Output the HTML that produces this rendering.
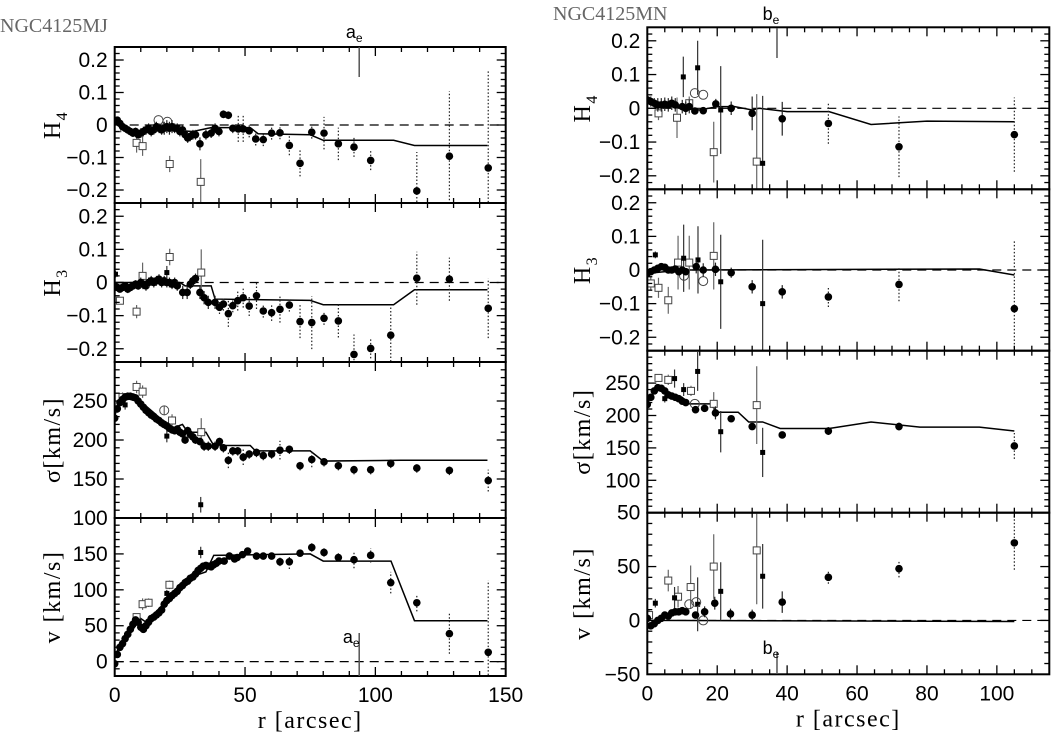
<!DOCTYPE html>
<html><head><meta charset="utf-8"><style>
html,body{margin:0;padding:0;background:#fff}
svg{display:block}
text{font-family:"Liberation Sans",sans-serif}
.serif{font-family:"Liberation Serif",serif}
</style></head><body>
<svg id="fig" width="1051" height="735" viewBox="0 0 1051 735" xmlns="http://www.w3.org/2000/svg">
<text class="serif" x="0" y="32" font-size="20" fill="#666">NGC4125MJ</text>
<text class="serif" x="553" y="20" font-size="20" fill="#666">NGC4125MN</text>
</svg>
<script>
// ===== LEFT (MJ) data: [r, value, error] =====
const L_H4_circ=[[0,0.01,0.01],[1,0.015,0.01],[2,0.005,0.01],[3,-0.005,0.01],[4,-0.01,0.01],[5,-0.015,0.01],[6,-0.02,0.012],[7,-0.025,0.012],[8,-0.02,0.012],[9,-0.03,0.012],[10,-0.025,0.015],[11,-0.02,0.015],[12,-0.015,0.015],[13,-0.01,0.015],[14,-0.02,0.015],[15,-0.015,0.015],[16,-0.005,0.015],[17,-0.01,0.015],[18,-0.015,0.015],[19,-0.01,0.02],[20,-0.005,0.02],[21,-0.01,0.02],[22,-0.005,0.02],[23,-0.01,0.015],[24,-0.01,0.015],[25,-0.02,0.015],[26,-0.015,0.015],[27,-0.03,0.015],[28,-0.04,0.015],[29,-0.035,0.015],[30,-0.03,0.015],[31,-0.03,0.015],[32.7,-0.058,0.02],[35,-0.03,0.015],[37,-0.025,0.015],[38.5,-0.01,0.015],[40,-0.02,0.015],[41.7,0.033,0.012],[43.6,0.03,0.012],[45.3,-0.01,0.015],[47.4,-0.012,0.04],[49.3,-0.012,0.04],[51.6,-0.018,0.02],[54.1,-0.043,0.02],[57,-0.045,0.02],[60.2,-0.025,0.02],[63.4,-0.024,0.02],[67,-0.063,0.03],[71.1,-0.118,0.04],[75.6,-0.022,0.02],[80.3,-0.025,0.05],[85.8,-0.058,0.05],[91.8,-0.068,0.03],[98.2,-0.109,0.03],[115.9,-0.203,0.12],[128.4,-0.096,0.2],[143.3,-0.132,0.3]];
const L_H4_sq=[[1,-0.01,0.01],[8.4,-0.055,0.03],[10.7,-0.065,0.03],[21.1,-0.12,0.025],[33,-0.175,0.07]];
const L_H4_osq=[[16.8,0.015],[20.2,0.01]];
const L_H4_model=[[0,0.01],[3,-0.01],[10,-0.02],[20,-0.015],[30,-0.02],[37,-0.008],[52,-0.008],[55,-0.027],[75,-0.03],[80,-0.047],[107,-0.047],[115,-0.063],[143,-0.063]];

const L_H3_circ=[[0,-0.01,0.01],[1,-0.015,0.01],[2,-0.02,0.01],[3,-0.015,0.01],[4,-0.01,0.01],[5,-0.02,0.012],[6,-0.015,0.012],[7,-0.01,0.012],[8,-0.005,0.012],[9,-0.01,0.012],[10,0.0,0.015],[11,-0.005,0.015],[12,-0.01,0.015],[13,0.0,0.015],[14,0.005,0.015],[15,0.0,0.015],[16,0.005,0.015],[17,0.01,0.015],[18,0.0,0.015],[19,0.005,0.015],[20,0.0,0.015],[21,0.0,0.015],[22,-0.005,0.015],[23,0.0,0.015],[24,-0.01,0.015],[26.1,-0.03,0.02],[27.8,-0.03,0.02],[29,-0.005,0.015],[30,0.005,0.015],[31,0.012,0.015],[32.7,-0.03,0.02],[34.3,-0.046,0.02],[35.9,-0.06,0.02],[38.5,-0.06,0.02],[40.2,-0.075,0.02],[41.7,-0.065,0.02],[43.6,-0.094,0.04],[45.3,-0.07,0.02],[47.2,-0.055,0.03],[49.3,-0.046,0.03],[51.6,-0.071,0.03],[54.4,-0.04,0.04],[57,-0.086,0.02],[60.2,-0.091,0.025],[63.4,-0.081,0.04],[67,-0.068,0.02],[71.1,-0.118,0.05],[75.6,-0.121,0.08],[80.3,-0.108,0.02],[85.8,-0.116,0.05],[91.8,-0.217,0.06],[98.2,-0.199,0.03],[105.9,-0.159,0.09],[115.9,0.013,0.08],[128.4,0.01,0.065],[143.3,-0.078,0.09]];
const L_H3_sq=[[2,-0.055,0.01],[8.4,-0.088,0.02],[10.7,0.02,0.04],[21.1,0.077,0.025],[33.2,0.03,0.07]];
const L_H3_small=[[0.3,0.025,0.01],[20,0.03,0.02]];
const L_H3_model=[[0,0],[25,0],[27,-0.01],[37,-0.01],[38.5,-0.05],[75,-0.054],[80,-0.067],[107,-0.067],[115,-0.022],[143,-0.022]];

const L_S_circ=[[0,228,5],[1,240,5],[2,248,5],[3,252,5],[4,255,5],[5,256,5],[6,256,5],[7,255,5],[8,254,5],[9,250,5],[10,246,5],[11,242,5],[12,238,5],[13,235,5],[14,232,5],[15,230,5],[16,227,5],[17,225,5],[18,222,5],[19,220,5],[20,218,5],[21,215,5],[22,213,5],[23,212,5],[24,214,5],[25,210,5],[26,208,5],[27,200,5],[28,212,5],[29,207,5],[30,204,5],[31,200,5],[32.7,198,5],[34.3,192,6],[35.9,192,6],[38.5,192,6],[40.2,198,6],[41.7,190,6],[43.6,174,10],[45.3,186,6],[47.2,186,6],[49.3,178,10],[51.6,182,6],[54.4,184,6],[57,180,6],[60.2,182,6],[63.4,187,12],[67,188,6],[71.1,167,6],[75.6,175,10],[80.3,172,6],[85.8,167,6],[91.8,162,6],[98.2,162,6],[105.9,170,6],[115.9,164,6],[128.4,161,6],[143.3,148,14]];
const L_S_sq=[[3,255,6],[8.4,268,8],[10.7,262,8],[22,225,8],[33.2,210,18]];
const L_S_small=[[4,245,6],[20,205,8],[33,117,10]];
const L_S_osq=[[19,238,6]];
const L_S_model=[[0,230],[2,255],[8,255],[15,235],[20,220],[22,215],[26,220],[28,210],[35,210],[38,193],[52,193],[54,186],[75,186],[80,173],[110,174],[143,174]];

const L_V_circ=[[0,-3,3],[1,10,3],[2,20,3],[3,25,3],[4,32,3],[5,38,3],[6,45,3],[7,52,3],[8,58,3],[9,55,3],[10,48,3],[11,45,3],[12,50,3],[13,55,3],[14,60,3],[15,62,3],[16,65,3],[17,68,3],[18,72,3],[19,80,3],[20,85,3],[21,88,3],[22,92,3],[23,95,3],[24,98,3],[25,103,3],[26,106,3],[27,110,3],[28,112,3],[29,116,3],[30,118,3],[31,122,3],[32,127,3],[33,130,3],[34,133,3],[35,134,3],[36,133,3],[37,132,3],[38,135,3],[39,137,3],[40,140,3],[42,140,3],[44,147,3],[46,143,4],[47,145,4],[49,149,4],[51,154,4],[54.4,147,4],[57,147,4],[60.2,147,4],[63.4,139,6],[67,139,10],[71.1,151,4],[75.6,159,6],[80.3,152,6],[85.8,145,6],[91.8,142,12],[98.2,148,10],[105.9,110,15],[115.9,82,12],[128.4,39,28],[143.3,13,100]];
const L_V_sq=[[8.4,62,5],[10.7,80,8],[13,82,6],[21,107,6]];
const L_V_small=[[33,152,8],[20,95,5]];
const L_V_model=[[0,10],[5,35],[10,60],[12,55],[20,85],[25,100],[27,115],[35,125],[38,148],[75,150],[80,140],[106,140],[115,57],[143,57]];

// ===== RIGHT (MN) data =====
const R_H4_circ=[[0,0.025,0.01],[1,0.02,0.015],[2,0.015,0.015],[3,0.01,0.02],[4,0.01,0.02],[5,0.012,0.02],[6,0.01,0.02],[7,0.015,0.02],[8,0.01,0.02],[10,0.005,0.02],[11,0.0,0.02],[12,0.005,0.02],[13.6,-0.008,0.01],[16,-0.007,0.01],[19.6,0.013,0.015],[24,0.0,0.02],[30,-0.015,0.05],[38.6,-0.031,0.05],[51.8,-0.045,0.06],[72,-0.114,0.09],[105,-0.078,0.11]];
const R_H4_sq=[[3.2,-0.015,0.02],[8.5,-0.028,0.06],[12,0.015,0.02],[19,-0.13,0.09],[31.3,-0.158,0.2]];
const R_H4_small=[[10.3,0.093,0.06],[14.4,0.12,0.08],[21,-0.005,0.13],[33,-0.163,0.2]];
const R_H4_open=[[13.6,0.045],[16,0.04]];
const R_H4_model=[[0,0.02],[10,0.0],[15,-0.005],[20,0.005],[25,0.005],[30,-0.005],[32,0],[40,-0.01],[52,-0.01],[64,-0.048],[80,-0.038],[105,-0.04]];

const R_H3_circ=[[0,-0.01,0.01],[1,-0.005,0.01],[2,0.0,0.01],[3,0.005,0.01],[4,0.01,0.01],[5,0.008,0.01],[6,0.0,0.01],[7,0.0,0.01],[8,0.003,0.01],[9,-0.005,0.01],[10,0.0,0.01],[11,-0.005,0.01],[14,0.01,0.02],[16,0.0,0.02],[19.5,0.002,0.02],[24,-0.008,0.015],[30,-0.05,0.02],[38.6,-0.065,0.02],[51.8,-0.08,0.03],[72,-0.043,0.05],[105,-0.115,0.2]];
const R_H3_sq=[[1,-0.04,0.02],[3.2,-0.053,0.03],[6,-0.09,0.04],[8.8,0.022,0.08],[12,0.022,0.08],[19,0.042,0.1]];
const R_H3_small=[[2.3,0.045,0.01],[10.4,0.035,0.1],[14.5,0.03,0.1],[21,-0.035,0.14],[33,-0.1,0.19]];
const R_H3_open=[[16,-0.033],[10.5,-0.017]];
const R_H3_model=[[0,-0.01],[10,0.0],[95,0.003],[105,-0.015]];

const R_S_circ=[[0,217,4],[1,228,4],[2,238,4],[3,243,4],[4,242,4],[5,238,4],[6,232,4],[7,230,4],[8,228,4],[9,226,4],[10,222,4],[11,220,4],[13.8,209,4],[16.4,211,4],[19.5,204,10],[24,195,4],[30,183,5],[38.6,170,4],[51.8,176,6],[72,183,6],[105,153,20]];
const R_S_sq=[[3.2,258,6],[6,255,8],[12.5,238,8],[19,218,18],[31.3,216,60]];
const R_S_small=[[5,226,6],[7.8,257,14],[10.4,240,10],[14.4,268,30],[21,175,32],[33,143,38]];
const R_S_open=[[13.6,218]];
const R_S_model=[[0,220],[3,245],[6,235],[10,228],[12,218],[18,218],[20,205],[26,205],[29,190],[33,190],[38,180],[52,180],[64,190],[78,182],[95,182],[105,176]];

const R_V_circ=[[0,2,2],[1,-5,3],[2,-3,3],[3,0,3],[4,2,3],[5,5,3],[6,4,3],[7,7,3],[8,8,3],[9,8,3],[10,9,3],[11,8,3],[13.8,5,3],[16.4,8,5],[19.3,16,6],[23.8,6,5],[30,5,5],[38.6,17,10],[51.8,40,6],[72,48,8],[105,72,25]];
const R_V_sq=[[0.5,5,5],[6,37,10],[8.8,22,10],[12.4,31,20],[19,50,30],[31.3,65,50]];
const R_V_small=[[2.3,16,4],[7.8,21,10],[14.4,15,25],[21,27,27],[33,41,30]];
const R_V_open=[[12,15],[14,17],[16,0]];
const R_V_model=[[0,0],[105,-1]];

const L_XTICKS=[0,50,100,150];
const R_XTICKS=[0,20,40,60,80,100];
const H_TICKS=[0.2,0.1,0,-0.1,-0.2];

const NS='http://www.w3.org/2000/svg';
const svg=document.getElementById('fig');
function el(tag,attrs,parent){const e=document.createElementNS(NS,tag);for(const k in attrs)e.setAttribute(k,attrs[k]);(parent||svg).appendChild(e);return e;}
function fmt(v){if(Math.abs(v)<1e-9)return '0';let s=(Math.abs(v)<1?String(+v.toFixed(2)):String(v));return s.replace('-','\u2212');}

function panel(cfg){
  const g=el('g',{});
  
  
  const sx=r=>cfg.px0+(r-cfg.x0)/(cfg.x1-cfg.x0)*(cfg.px1-cfg.px0);
  const sy=v=>cfg.py1-(v-cfg.y0)/(cfg.y1-cfg.y0)*(cfg.py1-cfg.py0);
  const clip='c'+cfg.name;
  const cp=el('clipPath',{id:clip},g);el('rect',{x:cfg.px0,y:cfg.py0,width:cfg.px1-cfg.px0,height:cfg.py1-cfg.py0},cp);
  const d=el('g',{'clip-path':'url(#'+clip+')'},g);
  if(cfg.zero){const z=el('line',{x1:cfg.px0,x2:cfg.px1,y1:sy(0),y2:sy(0),stroke:'#000','stroke-width':1.2,'stroke-dasharray':'9,6'},d);
    
    }
  const m=el('polyline',{points:cfg.model.map(p=>sx(p[0])+','+sy(p[1])).join(' '),fill:'none',stroke:'#000','stroke-width':1.5},d);
  
  
  function err(p,dotted,col){if(p[2]===undefined)return;el('line',{x1:sx(p[0]),x2:sx(p[0]),y1:sy(p[1]-p[2]),y2:sy(p[1]+p[2]),stroke:col,'stroke-width':1.2,'stroke-dasharray':dotted?'1.5,2':'none'},d);}
  (cfg.sq||[]).forEach(p=>{err(p,false,'#666');const s=el('rect',{x:sx(p[0])-3.5,y:sy(p[1])-3.5,width:7,height:7,fill:'#fff',stroke:'#444','stroke-width':1},d);
    
    });
  (cfg.small||[]).forEach(p=>{err(p,false,'#333');const s=el('rect',{x:sx(p[0])-2.5,y:sy(p[1])-2.5,width:5,height:5,fill:'#000'},d);
    
    });
  (cfg.open||[]).forEach(p=>{err(p,false,'#666');const s=el('circle',{cx:sx(p[0]),cy:sy(p[1]),r:4.5,fill:'none',stroke:'#444','stroke-width':1},d);
    
    });
  cfg.circ.forEach(p=>{err(p,p[0]>40,'#222');const s=el('circle',{cx:sx(p[0]),cy:sy(p[1]),r:3.8,fill:'#000'},d);
    
    });
  el('rect',{x:cfg.px0,y:cfg.py0,width:cfg.px1-cfg.px0,height:cfg.py1-cfg.py0,fill:'none',stroke:'#000','stroke-width':2},g);
  const tk=(x1,y1,x2,y2)=>el('line',{x1,y1,x2,y2,stroke:'#000','stroke-width':1.3},g);
  for(let v=cfg.x0;v<=cfg.x1+1e-9;v+=cfg.xmin){const x=sx(v);const maj=Math.abs(v/cfg.xmaj-Math.round(v/cfg.xmaj))<1e-6;const L=maj?9:5;tk(x,cfg.py1,x,cfg.py1-L);tk(x,cfg.py0,x,cfg.py0+L);}
  const ys=Math.ceil(cfg.y0/cfg.ymin-1e-9)*cfg.ymin;
  for(let v=ys;v<=cfg.y1+1e-9;v+=cfg.ymin){const y=sy(v);const maj=Math.abs(v/cfg.ymaj-Math.round(v/cfg.ymaj))<1e-6;const L=maj?9:5;tk(cfg.px0,y,cfg.px0+L,y);tk(cfg.px1,y,cfg.px1-L,y);}
  cfg.ylabels.forEach(v=>{const t=el('text',{x:cfg.px0-7,y:sy(v)+7,'text-anchor':'end','font-size':21},g);t.textContent=fmt(v);
    
    });
  if(cfg.xlabels){cfg.xlabels.forEach(v=>{const t=el('text',{x:sx(v),y:cfg.py1+26,'text-anchor':'middle','font-size':21},g);t.textContent=fmt(v);
    
    });
    const t=el('text',{x:(cfg.px0+cfg.px1)/2,y:cfg.py1+52,'text-anchor':'middle','font-size':24,'letter-spacing':'1.5',class:'serif'},g);t.textContent='r [arcsec]';
    
    }
  const yt=el('text',{x:0,y:0,'text-anchor':'middle','font-size':24,'letter-spacing':'1.5',class:'serif',transform:'translate('+cfg.labx+','+((cfg.py0+cfg.py1)/2)+') rotate(-90)'},g);
  
  
  yt.innerHTML=cfg.ylab;
  return {sx,sy,g};
}
const LX={x0:0,x1:150,px0:114.7,px1:505.7,xmaj:50,xmin:10,labx:60};
const RX={x0:0,x1:115,px0:647.3,px1:1049.3,xmaj:20,xmin:5,labx:590};
const H4lab='H<tspan dy="7" font-size="16">4</tspan>', H3lab='H<tspan dy="7" font-size="16">3</tspan>';
const a=panel(Object.assign({},LX,{name:'left-h4-panel',y0:-0.24,y1:0.24,py0:47,py1:203,ymaj:0.1,ymin:0.02,zero:true,ylabels:H_TICKS,circ:L_H4_circ,sq:L_H4_sq,open:L_H4_osq,model:L_H4_model,ylab:H4lab}));
panel(Object.assign({},LX,{name:'left-h3-panel',y0:-0.24,y1:0.24,py0:203,py1:362,ymaj:0.1,ymin:0.02,zero:true,ylabels:H_TICKS,circ:L_H3_circ,sq:L_H3_sq,small:L_H3_small,model:L_H3_model,ylab:H3lab}));
panel(Object.assign({},LX,{name:'left-sigma-panel',y0:100,y1:300,py0:362,py1:518,ymaj:50,ymin:10,ylabels:[250,200,150,100],circ:L_S_circ,sq:L_S_sq,small:L_S_small,open:L_S_osq,model:L_S_model,ylab:'σ[km/s]'}));
const lv=panel(Object.assign({},LX,{name:'left-velocity-panel',y0:-20,y1:200,py0:518,py1:676,ymaj:50,ymin:10,zero:true,ylabels:[150,100,50,0],circ:L_V_circ,sq:L_V_sq,small:L_V_small,model:L_V_model,xlabels:L_XTICKS,ylab:'v  [km/s]'}));
const b=panel(Object.assign({},RX,{name:'right-h4-panel',y0:-0.24,y1:0.24,py0:27.3,py1:189.3,ymaj:0.1,ymin:0.02,zero:true,ylabels:H_TICKS,circ:R_H4_circ,sq:R_H4_sq,small:R_H4_small,open:R_H4_open,model:R_H4_model,ylab:H4lab}));
panel(Object.assign({},RX,{name:'right-h3-panel',y0:-0.24,y1:0.24,py0:189.3,py1:350.7,ymaj:0.1,ymin:0.02,zero:true,ylabels:H_TICKS,circ:R_H3_circ,sq:R_H3_sq,small:R_H3_small,open:R_H3_open,model:R_H3_model,ylab:H3lab}));
panel(Object.assign({},RX,{name:'right-sigma-panel',y0:50,y1:300,py0:350.7,py1:512.7,ymaj:50,ymin:10,ylabels:[250,200,150,100,50],circ:R_S_circ,sq:R_S_sq,small:R_S_small,open:R_S_open,model:R_S_model,ylab:'σ[km/s]'}));
const rv=panel(Object.assign({},RX,{name:'right-velocity-panel',y0:-50,y1:100,py0:512.7,py1:674.3,ymaj:50,ymin:10,zero:true,ylabels:[50,0,-50],circ:R_V_circ,sq:R_V_sq,small:R_V_small,open:R_V_open,model:R_V_model,xlabels:R_XTICKS,ylab:'v  [km/s]'}));
function marker(x,y1,y2,lx,ly,letter,name){el('line',{x1:x,x2:x,y1:y1,y2:y2,stroke:'#555','stroke-width':1.5});
  const t=el('text',{x:lx,y:ly,'font-size':18,'text-anchor':'middle'});
  
  
  t.innerHTML=letter+'<tspan dy="4" font-size="12">e</tspan>';}
marker(a.sx(93.8),47,77,a.sx(93.8)-5,38,'a','ae-label-top');
marker(lv.sx(93.8),633,676,lv.sx(93.8)-8,643,'a','ae-label-bottom');
marker(b.sx(37.1),28,58,b.sx(37.1)-6,20,'b','be-label-top');
marker(rv.sx(37.1),652,674,rv.sx(37.1)-6,654,'b','be-label-bottom');
</script>
</body></html>
